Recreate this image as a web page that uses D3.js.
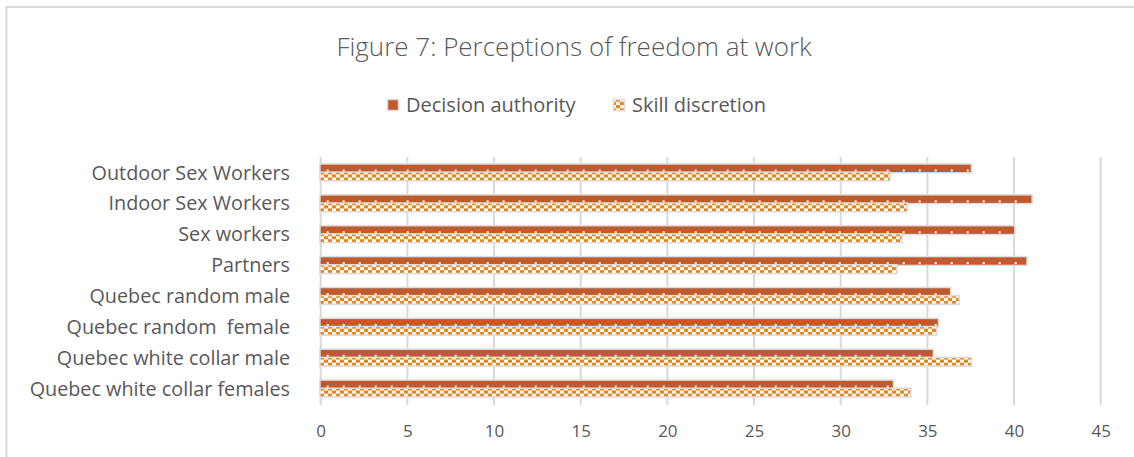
<!DOCTYPE html>
<html>
<head>
<meta charset="utf-8">
<script src="https://cdn.jsdelivr.net/npm/d3@7"></script>
<style>
  body { margin: 0; background: #fff; }
  svg { font-family: "Open Sans", sans-serif; }
  .cat text { white-space: pre; }
</style>
</head>
<body>
<svg id="chart" width="1134" height="457"></svg>
<script>
// categories, top to bottom
let categories = ["Outdoor Sex Workers", "Indoor Sex Workers", "Sex workers", "Partners",
  "Quebec random male", "Quebec random  female", "Quebec white collar male", "Quebec white collar females"];
let seriesNames = ["Decision authority", "Skill discretion"];
let decisionAuthority = [37.5, 41.0, 40.0, 40.7, 36.3, 35.6, 35.3, 33.0];
let skillDiscretion = [32.8, 33.8, 33.5, 33.2, 36.8, 35.5, 37.5, 34.0];
let xTicks = [0, 5, 10, 15, 20, 25, 30, 35, 40, 45];

let rows = categories.map(function(c, i) {
  return {cat: c, values: [decisionAuthority[i], skillDiscretion[i]]};
});

let svg = d3.select("#chart");
let textCol = "#595959", gridCol = "#d9d9d9";

// outer frame
svg.append("rect").attr("x", 6.5).attr("y", 7).attr("width", 1140).attr("height", 460)
  .attr("fill", "none").attr("stroke", gridCol).attr("stroke-width", 2);

// patterns
let defs = svg.append("defs");
let pDec = defs.append("pattern").attr("id", "pDec").attr("patternUnits", "userSpaceOnUse")
  .attr("width", 16).attr("height", 30.9);
pDec.append("rect").attr("width", 16).attr("height", 40).attr("fill", "#bf5a2d");
let pSk = defs.append("pattern").attr("id", "pSk").attr("patternUnits", "userSpaceOnUse")
  .attr("width", 8).attr("height", 6.4);
pSk.append("rect").attr("width", 8).attr("height", 6.4).attr("fill", "#fff");
pSk.append("rect").attr("width", 4).attr("height", 3.2).attr("fill", "#e8841a");
pSk.append("rect").attr("x", 4).attr("y", 3.2).attr("width", 4).attr("height", 3.2).attr("fill", "#e8841a");
let fills = ["url(#pDec)", "url(#pSk)"];

// title
svg.append("text").attr("x", 574).attr("y", 56).attr("text-anchor", "middle")
  .attr("font-size", 26).attr("font-weight", 300).attr("fill", textCol)
  .text("Figure 7: Perceptions of freedom at work");

let x = d3.scaleLinear().domain([0, 45]).range([320.7, 1100.7]);
let y0 = d3.scaleBand().domain(categories).range([157, 404]).paddingInner(0.5).paddingOuter(0.25);
let y1 = d3.scaleBand().domain(seriesNames).range([0, y0.bandwidth()]).paddingInner(0.1);

// gridlines
svg.append("g").selectAll("line").data(xTicks).enter().append("line")
  .attr("x1", function(d) { return x(d); }).attr("x2", function(d) { return x(d); })
  .attr("y1", 157).attr("y2", 405)
  .attr("stroke", gridCol).attr("stroke-width", 2);

// x axis labels
let xAxis = svg.append("g").attr("transform", "translate(0,404)")
  .call(d3.axisBottom(x).tickValues(xTicks).tickSize(0).tickPadding(21));
xAxis.select(".domain").remove();
xAxis.selectAll("text").attr("font-size", 17).attr("font-family", "'Open Sans', sans-serif")
  .attr("fill", textCol);

// category labels
let yAxis = svg.append("g").attr("class", "cat").attr("transform", "translate(298,0)")
  .call(d3.axisLeft(y0).tickSize(0).tickPadding(8));
yAxis.select(".domain").remove();
yAxis.selectAll("text").attr("font-size", 19.8).attr("font-family", "'Open Sans', sans-serif")
  .attr("fill", textCol).attr("dy", "0.36em");

// bars
let groups = svg.append("g").selectAll("g").data(rows).enter().append("g")
  .attr("transform", function(d) { return "translate(0," + y0(d.cat) + ")"; });

let bar = groups.selectAll("g").data(function(d) {
  return d.values.map(function(v, k) { return {key: seriesNames[k], k: k, v: v}; });
}).enter().append("g");

// soft grey outline
bar.append("rect")
  .attr("x", x(0)).attr("y", function(d) { return y1(d.key); })
  .attr("width", function(d) { return x(d.v) - x(0); })
  .attr("height", y1.bandwidth())
  .attr("fill", "none").attr("stroke", "#dcdcdc").attr("stroke-width", 3);
bar.append("rect")
  .attr("x", x(0)).attr("y", function(d) { return y1(d.key); })
  .attr("width", function(d) { return x(d.v) - x(0); })
  .attr("height", y1.bandwidth())
  .attr("fill", function(d) { return fills[d.k]; });
// white dots on decision bars
bar.filter(function(d) { return d.k === 0; }).each(function(d) {
  let g = d3.select(this);
  let dots = d3.range(x(0) + 6, x(d.v) - 3, 16);
  g.selectAll("rect.dot").data(dots).enter().append("rect").attr("class", "dot")
    .attr("x", function(p) { return p; }).attr("y", y1(d.key) + y1.bandwidth() - 2.5)
    .attr("width", 2).attr("height", 2).attr("fill", "#fff");
});

// legend
let legend = svg.append("g").attr("transform", "translate(0,105)");
let lx = [387, 613];
seriesNames.forEach(function(s, k) {
  legend.append("rect").attr("x", lx[k] + 0.5).attr("y", -5.5).attr("width", 11).attr("height", 11)
    .attr("fill", fills[k]).attr("stroke", "#dcdcdc").attr("stroke-width", 1.5);
  legend.append("text").attr("x", lx[k] + 19).attr("y", 0).attr("dy", "0.36em")
    .attr("font-size", 20).attr("fill", textCol).text(s);
});
</script>
</body>
</html>
